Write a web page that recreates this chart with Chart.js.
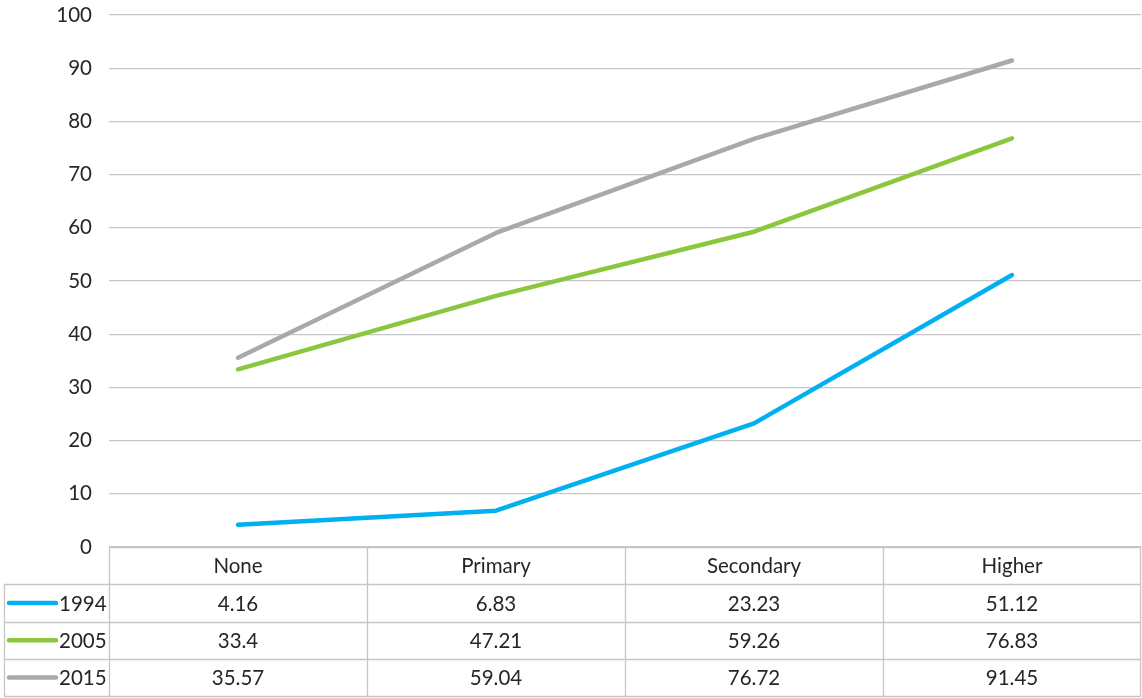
<!DOCTYPE html>
<html>
<head>
<meta charset="utf-8">
<script src="https://cdn.jsdelivr.net/npm/chart.js@4"></script>
<style>
  html, body { margin: 0; padding: 0; background: #fff; }
  canvas { display: block; }
</style>
</head>
<body>
<canvas id="lineChart" width="1142" height="698"></canvas>
<script>
const categories = ['None', 'Primary', 'Secondary', 'Higher'];
const seriesNames = ['1994', '2005', '2015'];
const values1994 = [4.16, 6.83, 23.23, 51.12];
const values2005 = [33.4, 47.21, 59.26, 76.83];
const values2015 = [35.57, 59.04, 76.72, 91.45];
const seriesColors = ['#00b0f0', '#8cc63e', '#a7a9ac'];

const FONT = 'Lato, "Noto Sans", sans-serif';
const FONT_SIZE = 20.5;
const TEXT_COLOR = '#262626';
const GRID_COLOR = '#c6c6c6';

// draws the data table (categories + values + legend keys) under the plot
const dataTable = {
  id: 'dataTable',
  afterDraw(chart) {
    const ctx = chart.ctx;
    const x = chart.scales.x;
    const area = chart.chartArea;
    const half = (x.getPixelForValue(1) - x.getPixelForValue(0)) / 2;
    const rowH = 37.3;
    const top = area.bottom;
    const tableLeft = 4;
    const rows = chart.data.datasets;

    ctx.save();
    ctx.strokeStyle = GRID_COLOR;
    ctx.lineWidth = 1.3;

    // horizontal lines
    ctx.beginPath();
    ctx.moveTo(area.left, top + 0.5);
    ctx.lineTo(area.right, top + 0.5);
    for (let r = 1; r <= rows.length + 1; r++) {
      const y = Math.min(Math.round(top + r * rowH), chart.height - 2) + 0.5;
      ctx.moveTo(tableLeft, y);
      ctx.lineTo(area.right, y);
    }
    // vertical lines
    const bottom = Math.min(Math.round(top + (rows.length + 1) * rowH), chart.height - 2) + 0.5;
    ctx.moveTo(tableLeft + 0.5, Math.round(top + rowH));
    ctx.lineTo(tableLeft + 0.5, bottom);
    for (let i = 0; i <= categories.length; i++) {
      const vx = Math.min(Math.round(x.getPixelForValue(i) - half), area.right - 1) + 0.5;
      ctx.moveTo(vx, top);
      ctx.lineTo(vx, bottom);
    }
    ctx.stroke();

    ctx.font = FONT_SIZE + 'px ' + FONT;
    ctx.fillStyle = TEXT_COLOR;
    ctx.textAlign = 'center';
    ctx.textBaseline = 'middle';
    categories.forEach((c, i) => {
      ctx.fillText(c, x.getPixelForValue(i), top + rowH / 2 + 1);
    });

    rows.forEach((ds, r) => {
      const cy = top + (r + 1.5) * rowH + 1;
      ctx.textAlign = 'center';
      ds.data.forEach((v, i) => {
        ctx.fillText(String(v), x.getPixelForValue(i), cy);
      });
      // legend key
      ctx.strokeStyle = ds.borderColor;
      ctx.lineWidth = 4.5;
      ctx.lineCap = 'round';
      ctx.beginPath();
      ctx.moveTo(9, cy - 1);
      ctx.lineTo(56, cy - 1);
      ctx.stroke();
      ctx.textAlign = 'left';
      ctx.fillText(ds.label, 59, cy);
    });
    ctx.restore();
  }
};

const ctx = document.getElementById('lineChart').getContext('2d');
const allValues = [values1994, values2005, values2015];
new Chart(ctx, {
  type: 'line',
  data: {
    labels: categories,
    datasets: seriesNames.map((name, i) => ({
      label: name,
      data: allValues[i],
      borderColor: seriesColors[i],
      backgroundColor: seriesColors[i],
      borderWidth: 4.5,
      pointRadius: 0,
      tension: 0,
      borderCapStyle: 'round',
      borderJoinStyle: 'round'
    }))
  },
  options: {
    responsive: false,
    animation: false,
    layout: { padding: { top: 15, right: 1, bottom: 151, left: 0 } },
    plugins: {
      legend: { display: false },
      tooltip: { enabled: false }
    },
    scales: {
      x: {
        display: false,
        offset: true
      },
      y: {
        min: 0,
        max: 100,
        ticks: {
          stepSize: 10,
          padding: 17,
          color: TEXT_COLOR,
          font: { family: FONT, size: FONT_SIZE }
        },
        grid: {
          color: GRID_COLOR,
          lineWidth: 1.3,
          drawTicks: false
        },
        border: { display: false },
        afterFit(scale) {
          scale.width = 109;
          scale.paddingTop = 0;
          scale.paddingBottom = 0;
        }
      }
    }
  },
  plugins: [dataTable]
});
</script>
</body>
</html>
